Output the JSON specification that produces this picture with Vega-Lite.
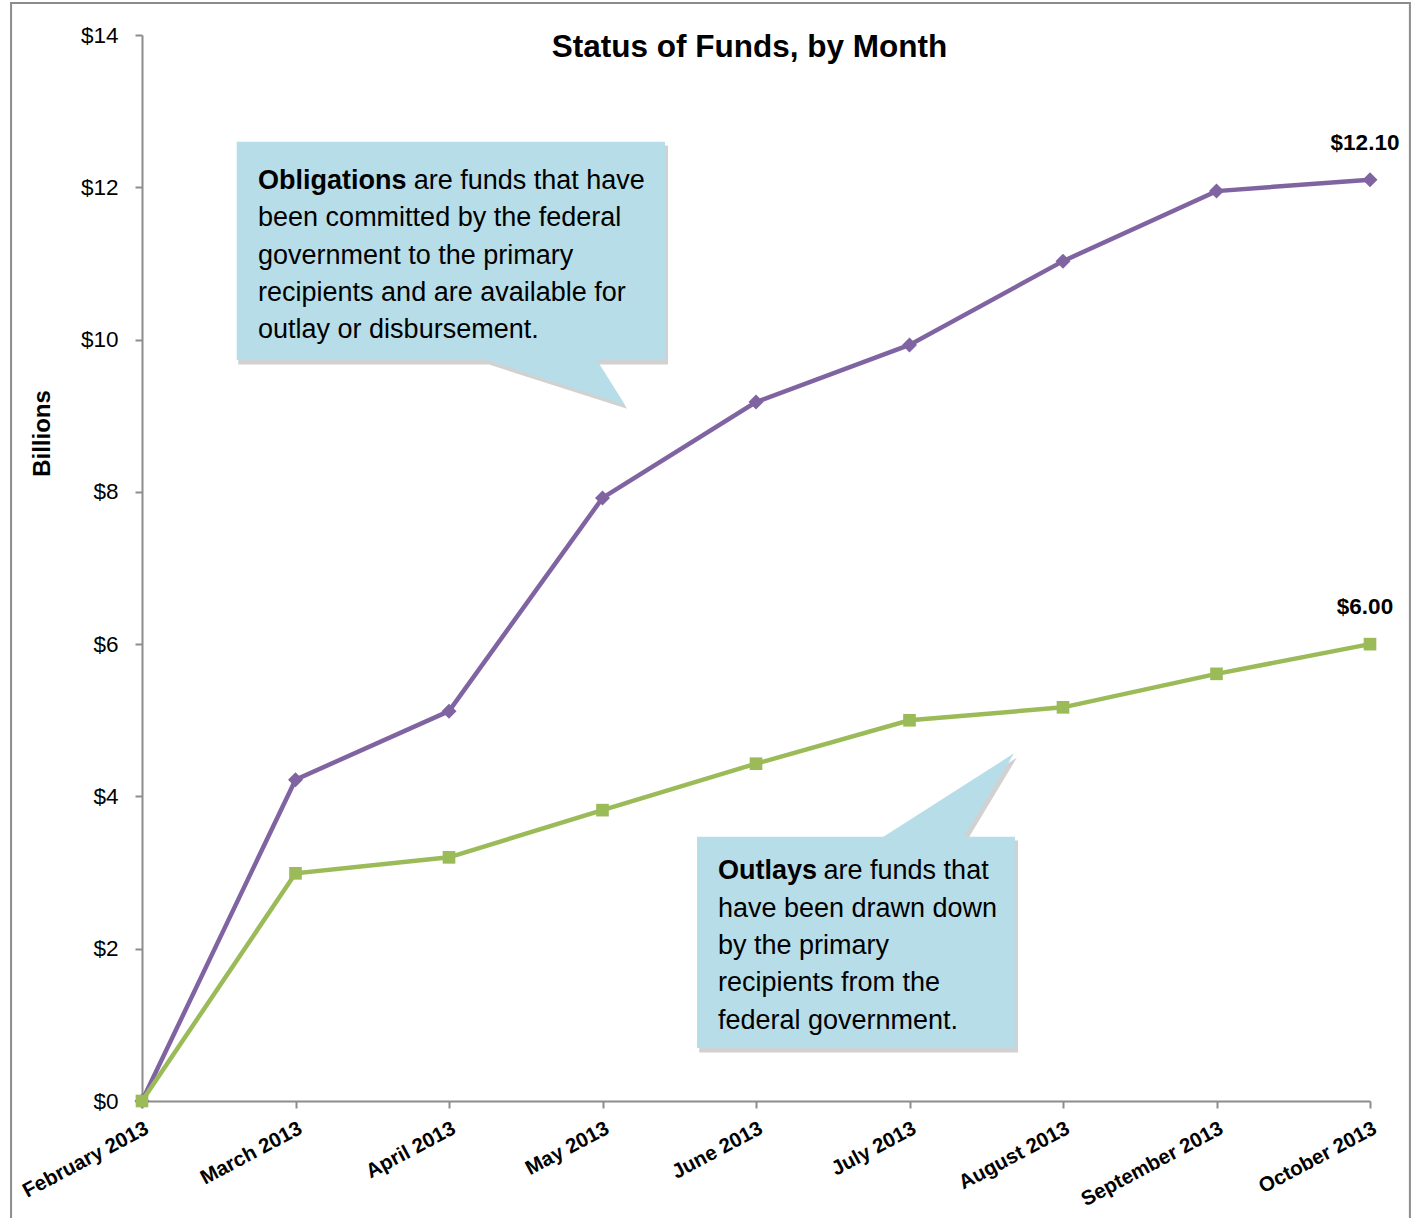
{
  "$schema": "https://vega.github.io/schema/vega-lite/v6.json",
  "width": 1228,
  "height": 1066,
  "autosize": {"type": "none"},
  "padding": {"left": 142, "top": 35, "right": 46, "bottom": 117},
  "background": "white",
  "config": {
    "view": {"stroke": null},
    "font": "Liberation Sans, Arial, sans-serif",
    "text": {"font": "Liberation Sans, Arial, sans-serif"}
  },
  "datasets": {
    "funds": [
      {"month": "February 2013", "idx": 0, "series": "Obligations", "value": 0},
      {"month": "March 2013", "idx": 1, "series": "Obligations", "value": 4.22},
      {"month": "April 2013", "idx": 2, "series": "Obligations", "value": 5.12},
      {"month": "May 2013", "idx": 3, "series": "Obligations", "value": 7.92},
      {"month": "June 2013", "idx": 4, "series": "Obligations", "value": 9.18},
      {"month": "July 2013", "idx": 5, "series": "Obligations", "value": 9.93},
      {"month": "August 2013", "idx": 6, "series": "Obligations", "value": 11.03},
      {"month": "September 2013", "idx": 7, "series": "Obligations", "value": 11.95},
      {"month": "October 2013", "idx": 8, "series": "Obligations", "value": 12.10},
      {"month": "February 2013", "idx": 0, "series": "Outlays", "value": 0},
      {"month": "March 2013", "idx": 1, "series": "Outlays", "value": 2.99},
      {"month": "April 2013", "idx": 2, "series": "Outlays", "value": 3.20},
      {"month": "May 2013", "idx": 3, "series": "Outlays", "value": 3.82},
      {"month": "June 2013", "idx": 4, "series": "Outlays", "value": 4.43},
      {"month": "July 2013", "idx": 5, "series": "Outlays", "value": 5.00},
      {"month": "August 2013", "idx": 6, "series": "Outlays", "value": 5.17},
      {"month": "September 2013", "idx": 7, "series": "Outlays", "value": 5.61},
      {"month": "October 2013", "idx": 8, "series": "Outlays", "value": 6.00}
    ],
    "callouts": [
      {"callout": "Obligations", "ord": 0, "x": 0.617, "y": 12.599},
      {"callout": "Obligations", "ord": 1, "x": 3.407, "y": 12.599},
      {"callout": "Obligations", "ord": 2, "x": 3.407, "y": 9.732},
      {"callout": "Obligations", "ord": 3, "x": 2.962, "y": 9.732},
      {"callout": "Obligations", "ord": 4, "x": 3.147, "y": 9.141},
      {"callout": "Obligations", "ord": 5, "x": 2.245, "y": 9.732},
      {"callout": "Obligations", "ord": 6, "x": 0.617, "y": 9.732},
      {"callout": "Outlays", "ord": 0, "x": 3.616, "y": 3.471},
      {"callout": "Outlays", "ord": 1, "x": 4.83, "y": 3.471},
      {"callout": "Outlays", "ord": 2, "x": 5.681, "y": 4.566},
      {"callout": "Outlays", "ord": 3, "x": 5.355, "y": 3.471},
      {"callout": "Outlays", "ord": 4, "x": 5.687, "y": 3.471},
      {"callout": "Outlays", "ord": 5, "x": 5.687, "y": 0.696},
      {"callout": "Outlays", "ord": 6, "x": 3.616, "y": 0.696}
    ],
    "shadows": [
      {"callout": "Obligations", "ord": 0, "x": 0.627, "y": 12.55},
      {"callout": "Obligations", "ord": 1, "x": 3.427, "y": 12.55},
      {"callout": "Obligations", "ord": 2, "x": 3.427, "y": 9.672},
      {"callout": "Obligations", "ord": 3, "x": 2.98, "y": 9.672},
      {"callout": "Obligations", "ord": 4, "x": 3.16, "y": 9.09},
      {"callout": "Obligations", "ord": 5, "x": 2.26, "y": 9.672},
      {"callout": "Obligations", "ord": 6, "x": 0.627, "y": 9.672},
      {"callout": "Outlays", "ord": 0, "x": 3.63, "y": 3.42},
      {"callout": "Outlays", "ord": 1, "x": 4.85, "y": 3.42},
      {"callout": "Outlays", "ord": 2, "x": 5.70, "y": 4.51},
      {"callout": "Outlays", "ord": 3, "x": 5.375, "y": 3.42},
      {"callout": "Outlays", "ord": 4, "x": 5.707, "y": 3.42},
      {"callout": "Outlays", "ord": 5, "x": 5.707, "y": 0.636},
      {"callout": "Outlays", "ord": 6, "x": 3.63, "y": 0.636}
    ],
    "notes": [
      {"kind": "term", "x": 0.756, "y": 11.977, "text": "Obligations"},
      {"kind": "body", "x": 1.77, "y": 11.977, "text": "are funds that have"},
      {"kind": "body", "x": 0.756, "y": 11.488, "text": "been committed by the federal"},
      {"kind": "body", "x": 0.756, "y": 10.998, "text": "government to the primary"},
      {"kind": "body", "x": 0.756, "y": 10.508, "text": "recipients and are available for"},
      {"kind": "body", "x": 0.756, "y": 10.018, "text": "outlay or disbursement."},
      {"kind": "term", "x": 3.752, "y": 2.912, "text": "Outlays"},
      {"kind": "body", "x": 4.44, "y": 2.912, "text": "are funds that"},
      {"kind": "body", "x": 3.752, "y": 2.422, "text": "have been drawn down"},
      {"kind": "body", "x": 3.752, "y": 1.932, "text": "by the primary"},
      {"kind": "body", "x": 3.752, "y": 1.442, "text": "recipients from the"},
      {"kind": "body", "x": 3.752, "y": 0.952, "text": "federal government."}
    ]
  },
  "layer": [
    {
      "data": {"values": [{"x1": -0.853, "x2": 8.26, "y1": -2, "y2": 14.42}]},
      "mark": {"type": "rect", "fill": null, "stroke": "#8c8c8c", "strokeWidth": 2},
      "encoding": {
        "x": {"field": "x1", "type": "quantitative"},
        "x2": {"field": "x2"},
        "y": {"field": "y1", "type": "quantitative"},
        "y2": {"field": "y2"}
      }
    },
    {
      "data": {"values": [{"x": 3.958, "y": 13.711, "text": "Status of Funds, by Month"}]},
      "mark": {"type": "text", "align": "center", "baseline": "alphabetic", "fontSize": 31.5, "fontWeight": "bold", "color": "black"},
      "encoding": {
        "x": {"field": "x", "type": "quantitative"},
        "y": {"field": "y", "type": "quantitative"},
        "text": {"field": "text"}
      }
    },
    {
      "data": {"name": "shadows"},
      "mark": {"type": "line", "fill": "#9a9a9a", "fillOpacity": 0.45, "stroke": null, "strokeWidth": 0},
      "encoding": {
        "x": {"field": "x", "type": "quantitative"},
        "y": {"field": "y", "type": "quantitative"},
        "detail": {"field": "callout"},
        "order": {"field": "ord"}
      }
    },
    {
      "data": {"name": "callouts"},
      "mark": {"type": "line", "fill": "#b7dde8", "stroke": null, "strokeWidth": 0},
      "encoding": {
        "x": {"field": "x", "type": "quantitative"},
        "y": {"field": "y", "type": "quantitative"},
        "detail": {"field": "callout"},
        "order": {"field": "ord"}
      }
    },
    {
      "data": {"name": "notes"},
      "transform": [{"filter": "datum.kind === 'term'"}],
      "mark": {"type": "text", "align": "left", "baseline": "alphabetic", "fontSize": 27, "fontWeight": "bold", "color": "black"},
      "encoding": {
        "x": {"field": "x", "type": "quantitative"},
        "y": {"field": "y", "type": "quantitative"},
        "text": {"field": "text"}
      }
    },
    {
      "data": {"name": "notes"},
      "transform": [{"filter": "datum.kind === 'body'"}],
      "mark": {"type": "text", "align": "left", "baseline": "alphabetic", "fontSize": 27, "color": "black"},
      "encoding": {
        "x": {"field": "x", "type": "quantitative"},
        "y": {"field": "y", "type": "quantitative"},
        "text": {"field": "text"}
      }
    },
    {
      "data": {"name": "funds"},
      "mark": {"type": "line", "strokeWidth": 4.5},
      "encoding": {
        "x": {
          "field": "idx", "type": "quantitative",
          "scale": {"domain": [0, 8], "nice": false, "zero": false},
          "axis": {
            "title": null,
            "values": [0, 1, 2, 3, 4, 5, 6, 7, 8],
            "labelExpr": "['February 2013','March 2013','April 2013','May 2013','June 2013','July 2013','August 2013','September 2013','October 2013'][datum.value]",
            "grid": false,
            "domainColor": "#8c8c8c",
            "domainWidth": 2,
            "tickColor": "#8c8c8c",
            "tickWidth": 2,
            "tickSize": 7,
            "labelAngle": -28,
            "labelAlign": "right",
            "labelBaseline": "top",
            "labelPadding": 10,
            "labelFontSize": 20.5,
            "labelFontWeight": "bold",
            "labelColor": "black",
            "labelOverlap": false,
            "labelFlush": false,
            "labelLimit": 400
          }
        },
        "y": {
          "field": "value", "type": "quantitative",
          "scale": {"domain": [0, 14], "nice": false},
          "axis": {
            "title": "Billions",
            "titleFontSize": 24,
            "titleFontWeight": "bold",
            "titleColor": "black",
            "titleAngle": -90,
            "titleX": -100,
            "titleY": 398,
            "titleAlign": "center",
            "titleBaseline": "middle",
            "values": [0, 2, 4, 6, 8, 10, 12, 14],
            "labelExpr": "'$' + datum.value",
            "grid": false,
            "domainColor": "#8c8c8c",
            "domainWidth": 2,
            "tickColor": "#8c8c8c",
            "tickWidth": 2,
            "tickSize": 7,
            "labelPadding": 17,
            "labelFontSize": 22.5,
            "labelColor": "black"
          }
        },
        "color": {
          "field": "series", "type": "nominal",
          "scale": {"domain": ["Obligations", "Outlays"], "range": ["#8064a2", "#9bbb59"]},
          "legend": null
        }
      }
    },
    {
      "data": {"name": "funds"},
      "transform": [{"filter": "datum.series === 'Obligations'"}],
      "mark": {"type": "point", "shape": "diamond", "filled": true, "size": 225, "opacity": 1, "color": "#8064a2"},
      "encoding": {
        "x": {"field": "idx", "type": "quantitative"},
        "y": {"field": "value", "type": "quantitative"}
      }
    },
    {
      "data": {"name": "funds"},
      "transform": [{"filter": "datum.series === 'Outlays'"}],
      "mark": {"type": "point", "shape": "square", "filled": true, "size": 160, "opacity": 1, "color": "#9bbb59"},
      "encoding": {
        "x": {"field": "idx", "type": "quantitative"},
        "y": {"field": "value", "type": "quantitative"}
      }
    },
    {
      "data": {"name": "funds"},
      "transform": [{"filter": "datum.idx === 8"}],
      "mark": {"type": "text", "align": "center", "baseline": "alphabetic", "dy": -30, "dx": -5, "fontSize": 22.5, "fontWeight": "bold", "color": "black"},
      "encoding": {
        "x": {"field": "idx", "type": "quantitative"},
        "y": {"field": "value", "type": "quantitative"},
        "text": {"field": "value", "type": "quantitative", "format": "$.2f"}
      }
    }
  ]
}
